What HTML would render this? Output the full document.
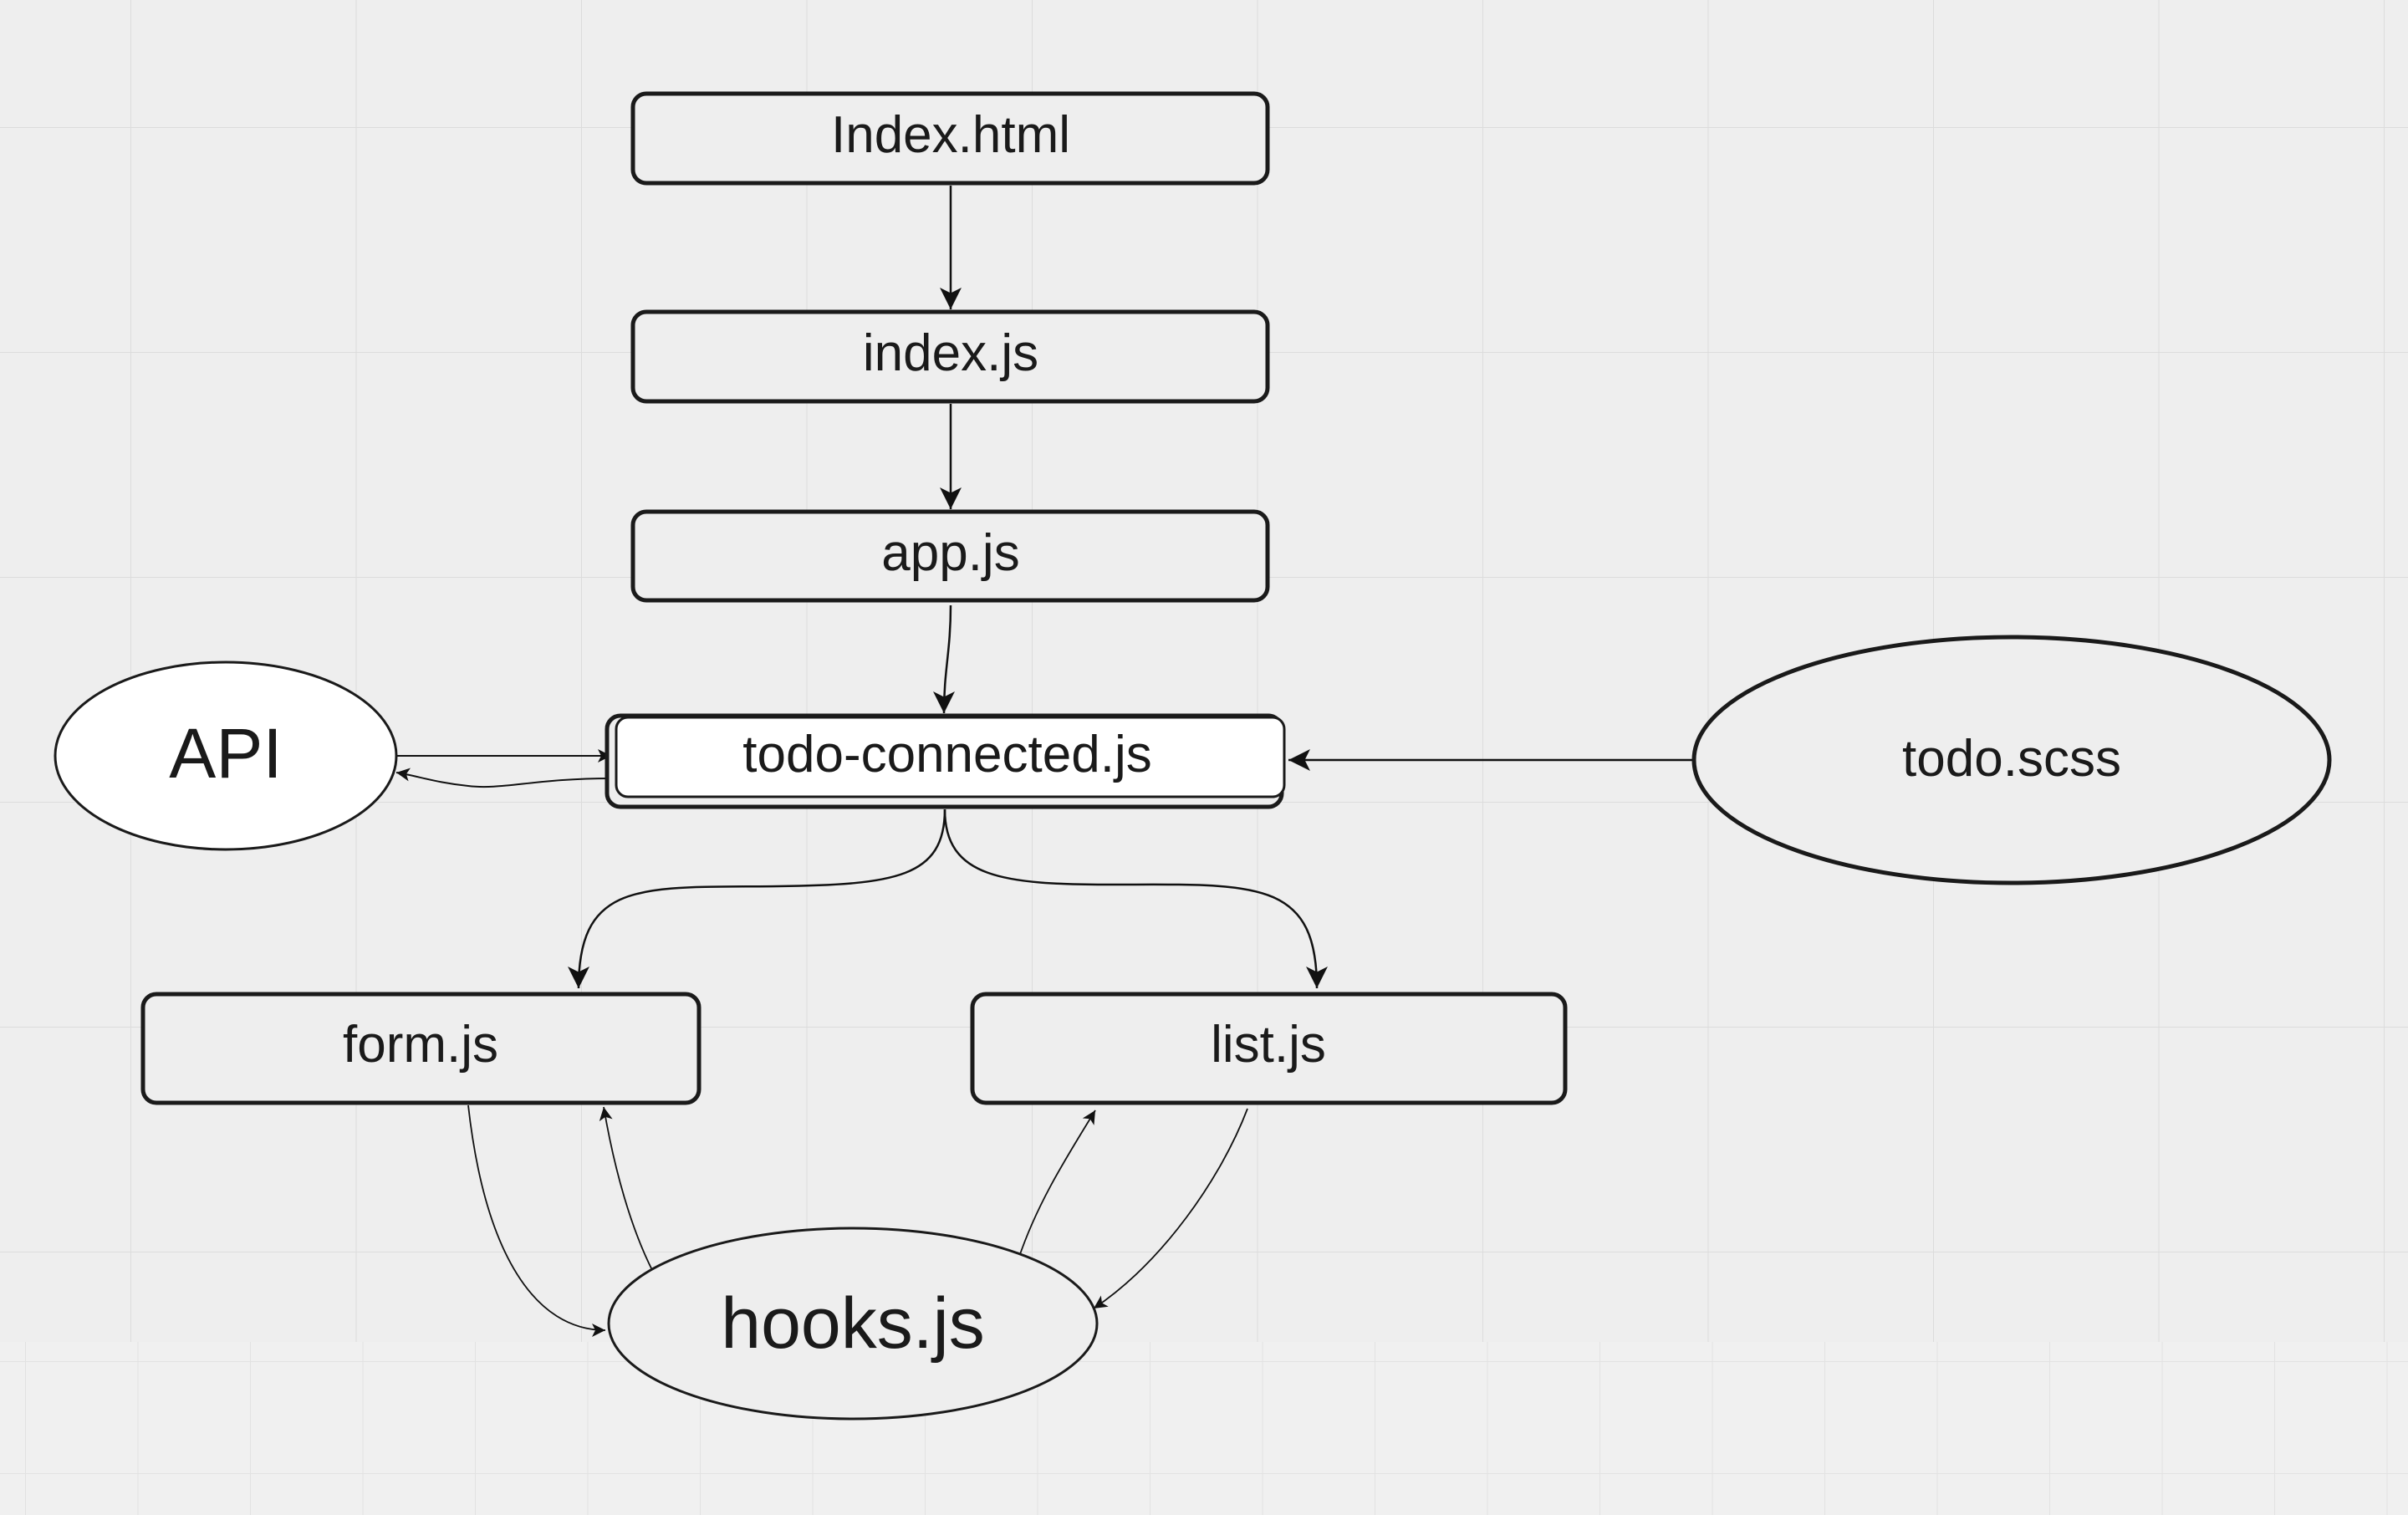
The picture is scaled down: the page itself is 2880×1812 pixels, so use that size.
<!DOCTYPE html>
<html><head><meta charset="utf-8"><style>
html,body{margin:0;padding:0;width:2880px;height:1812px;overflow:hidden;background:#eeeeee}
svg{display:block}
text{font-family:"Liberation Sans",sans-serif;fill:#1a1a1a}
</style></head><body>
<svg width="2880" height="1812" viewBox="0 0 2880 1812" xmlns="http://www.w3.org/2000/svg">
<defs>
<pattern id="g1" x="156" y="152" width="269.5" height="269" patternUnits="userSpaceOnUse">
<path d="M0 0V269M0 0H269.5" stroke="#dcdcdc" stroke-width="2" fill="none"/></pattern>
<pattern id="g2" x="30" y="1628" width="134.5" height="134" patternUnits="userSpaceOnUse">
<path d="M0 0V134M0 0H134.5" stroke="#e2e2e2" stroke-width="2" fill="none"/></pattern>
<marker id="a" markerWidth="10" markerHeight="10" refX="9" refY="5" orient="auto" markerUnits="userSpaceOnUse" viewBox="0 0 10 10">
</marker>
<marker id="big" viewBox="0 0 10 10" refX="10" refY="5" markerWidth="26" markerHeight="30" orient="auto" markerUnits="userSpaceOnUse"><path d="M0 0L10 5L0 10L2.5 5Z" fill="#111"/></marker>
<marker id="sm" viewBox="0 0 10 10" refX="10" refY="5" markerWidth="18" markerHeight="16" orient="auto" markerUnits="userSpaceOnUse"><path d="M0 0L10 5L0 10L2.5 5Z" fill="#111"/></marker>
</defs>
<rect x="0" y="0" width="2880" height="1605" fill="#eeeeee"/>
<rect x="0" y="0" width="2880" height="1605" fill="url(#g1)"/>
<rect x="0" y="1605" width="2880" height="207" fill="#f0f0f0"/>
<rect x="0" y="1605" width="2880" height="207" fill="url(#g2)"/>

<g fill="none" stroke="#111">
<path d="M1137 222V370" stroke-width="2.5" marker-end="url(#big)"/>
<path d="M1137 483V609" stroke-width="2.5" marker-end="url(#big)"/>
<path d="M1137 724C1137 780 1129 800 1129 853" stroke-width="2.5" marker-end="url(#big)"/>
<path d="M2026 909H1541" stroke-width="2.5" marker-end="url(#big)"/>
<path d="M474 904H731" stroke-width="2" marker-end="url(#sm)"/>
<path d="M731 931C640 931 600 945 560 940C520 936 500 928 474 924" stroke-width="2" marker-end="url(#sm)"/>
<path d="M1130 968C1130 1050 1070 1058 930 1060C770 1062 692 1050 692 1182" stroke-width="2.5" marker-end="url(#big)"/>
<path d="M1130 968C1130 1050 1200 1058 1330 1058C1500 1058 1575 1050 1575 1182" stroke-width="2.5" marker-end="url(#big)"/>
<path d="M560 1322C580 1500 640 1591 724 1591" stroke-width="1.8" marker-end="url(#sm)"/>
<path d="M781 1521C755 1470 735 1400 722 1324" stroke-width="1.8" marker-end="url(#sm)"/>
<path d="M1218 1506C1240 1440 1275 1385 1310 1328" stroke-width="1.8" marker-end="url(#sm)"/>
<path d="M1492 1326C1460 1410 1390 1510 1308 1565" stroke-width="1.8" marker-end="url(#sm)"/>
</g>

<g stroke="#1a1a1a" stroke-width="5" fill="#eeeeee">
<rect x="757" y="112" width="759" height="107" rx="16"/>
<rect x="757" y="373" width="759" height="107" rx="16"/>
<rect x="757" y="612" width="759" height="106" rx="16"/>
<rect x="726" y="856" width="807" height="109" rx="16"/>
<rect x="737" y="858" width="799" height="95" rx="14" fill="#fff" stroke-width="3"/>
<rect x="171" y="1189" width="665" height="130" rx="16"/>
<rect x="1163" y="1189" width="709" height="130" rx="16"/>
<ellipse cx="270" cy="904" rx="204" ry="112" fill="#fff" stroke-width="3"/>
<ellipse cx="2406" cy="909" rx="380" ry="147" stroke-width="5"/>
<ellipse cx="1020" cy="1583" rx="292" ry="114" stroke-width="3"/>
</g>

<g text-anchor="middle">
<text x="1137" y="182" font-size="62">Index.html</text>
<text x="1137" y="443" font-size="62">index.js</text>
<text x="1137" y="682" font-size="62">app.js</text>
<text x="1133" y="923" font-size="62">todo-connected.js</text>
<text x="270" y="930" font-size="84">API</text>
<text x="2406" y="928" font-size="62">todo.scss</text>
<text x="503" y="1270" font-size="62">form.js</text>
<text x="1517" y="1270" font-size="62">list.js</text>
<text x="1020" y="1612" font-size="86">hooks.js</text>
</g>
</svg>
</body></html>
